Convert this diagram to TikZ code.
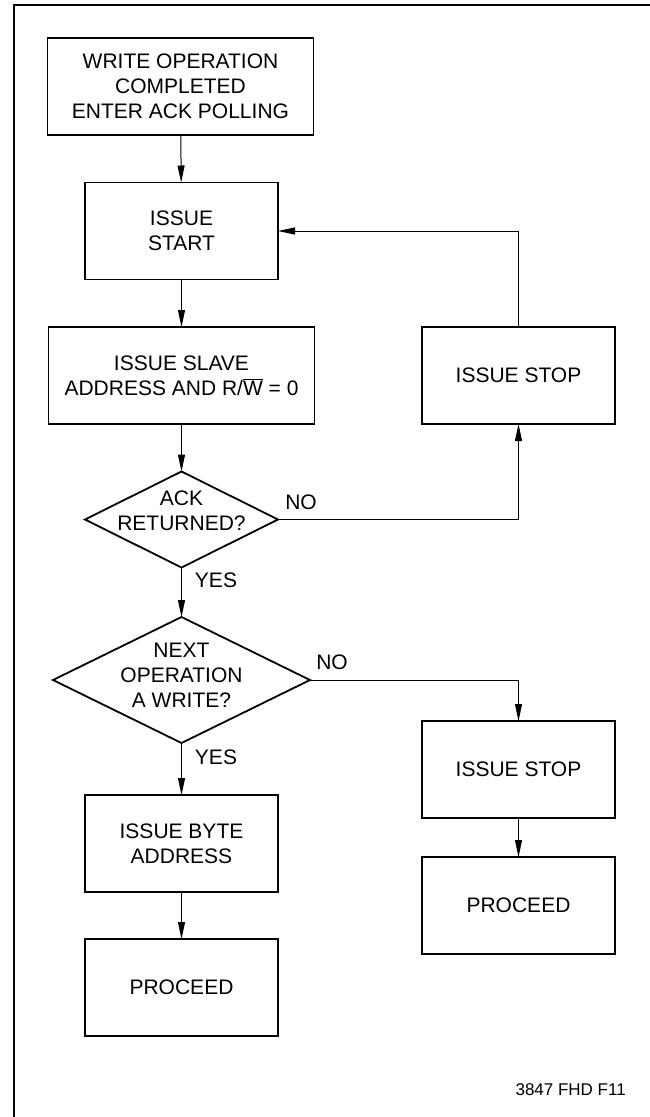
\documentclass[tikz,border=0pt]{standalone}
\usepackage{fontspec}
\setmainfont{Liberation Sans}
\usepackage{tikz}
\usetikzlibrary{
	arrows.meta,
	shapes.geometric,
	positioning,
	}

\begin{document}
\begin{tikzpicture}[x=1pt,y=-1pt,
	every node/.style={font=\fontsize{21}{25}\selectfont},
	stepbox/.style={draw,line width=1.8pt,shape=rectangle,align=center,minimum width=193pt,minimum height=97pt,inner sep=0pt,outer sep=0pt},
	widebox/.style={stepbox,minimum width=266pt},
	decision/.style={draw,line width=1.8pt,shape=diamond,inner sep=0pt,outer sep=0pt},
	flow/.style={line width=1pt,-{Triangle[length=17pt,width=7pt]}},
	tag/.style={inner sep=0pt,anchor=center}]
\useasboundingbox (0,0) rectangle (650,1117);
\draw[line width=1.3pt] (650,5) -- (14,5) -- (14,1117);
\node[widebox] (enter) at (180.5,86.5) {WRITE OPERATION\\COMPLETED\\ENTER ACK POLLING};
\node[stepbox] (start) at (181.5,231) {ISSUE\\START};
\node[widebox] (slave) at (181.5,375.5) {ISSUE SLAVE\\ADDRESS AND R/\ensuremath{\overline{\hbox{W}}} = 0};
\node[stepbox] (stopa) at (518.5,375.5) {ISSUE STOP};
\node[decision,minimum width=193pt,minimum height=96pt] (ack) at (181.5,519.5) {};
\node[tag,align=center,yshift=9pt] (acktext) at (ack) {ACK\\RETURNED?};
\node[decision,minimum width=257pt,minimum height=126pt] (next) at (181.5,680) {};
\node[tag,align=center,yshift=5pt] (nexttext) at (next) {NEXT\\OPERATION\\A WRITE?};
\node[stepbox] (stopb) at (518.5,769.5) {ISSUE STOP};
\node[stepbox] (byte) at (181.5,843.5) {ISSUE BYTE\\ADDRESS};
\node[stepbox] (proca) at (181.5,987.5) {PROCEED};
\node[stepbox] (procb) at (518.5,905.5) {PROCEED};
\node[tag] (noa) at (301,502.5) {NO};
\node[tag] (yesa) at (216,580.5) {YES};
\node[tag] (nob) at (332,662) {NO};
\node[tag] (yesb) at (216,757.5) {YES};
\node[inner sep=0pt,anchor=east,font=\fontsize{17}{20}\selectfont] (fig) at (626,1089.5) {3847 FHD F11};
\draw[flow] (enter) -- (start);
\draw[flow] (start) -- (slave);
\draw[flow] (slave) -- (ack);
\draw[flow] (ack.east) -| (stopa.south);
\draw[flow] (stopa.north) |- (start.east);
\draw[flow] (ack.south) -- (next.north);
\draw[flow] (next.east) -| (stopb.north);
\draw[flow] (next.south) -- (byte.north);
\draw[flow] (byte) -- (proca);
\draw[flow] (stopb) -- (procb);
\end{tikzpicture}
\end{document}
